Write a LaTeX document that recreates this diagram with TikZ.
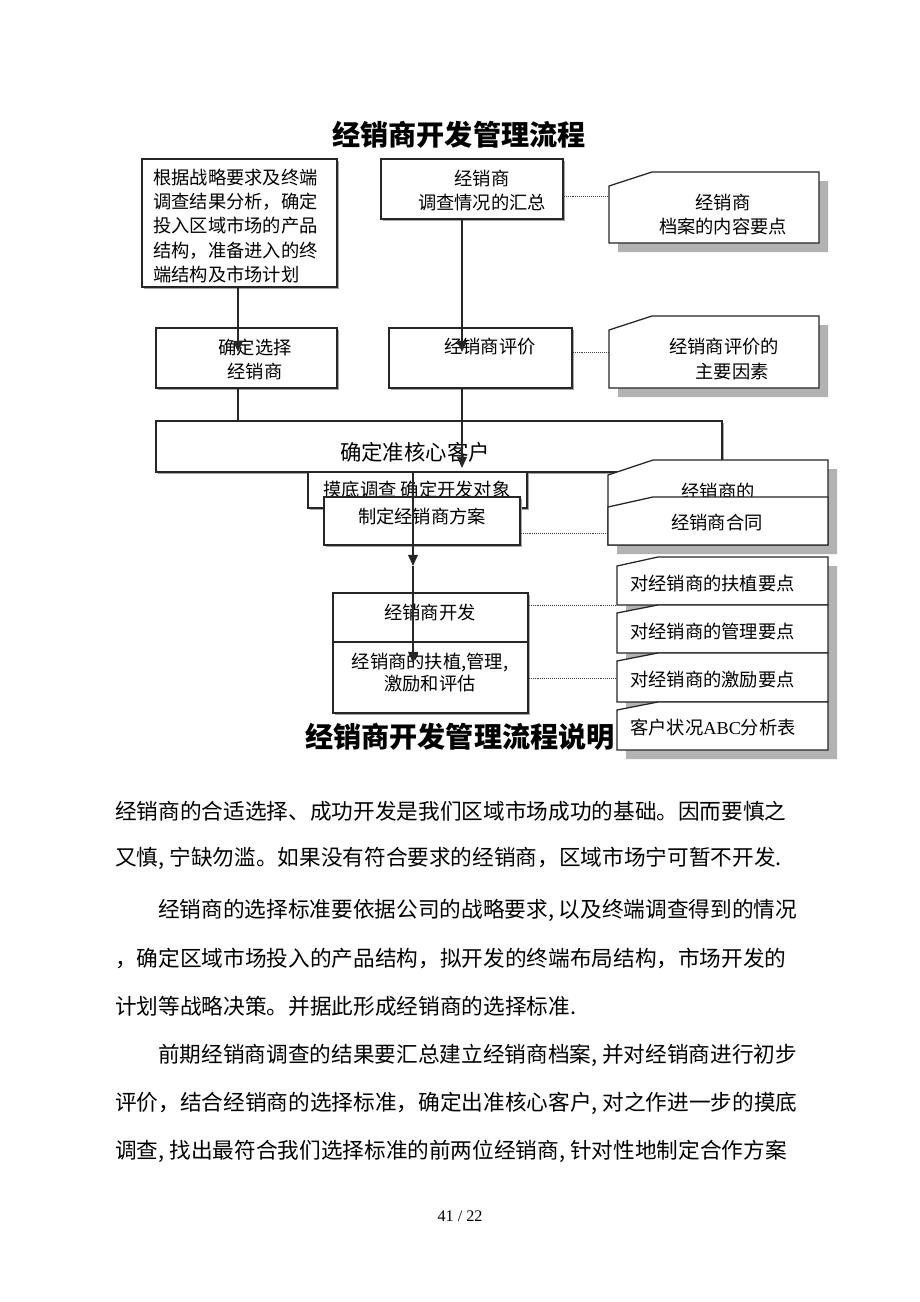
\documentclass[tikz,border=0pt]{standalone}
\usepackage{fontspec}
\setmainfont{Liberation Serif}
\newfontfamily\cjk{Noto Sans CJK SC}
\newfontfamily\lat{Liberation Serif}
\usetikzlibrary{positioning,arrows.meta,fit,shadows}
\tikzset{
  flowbox/.style={draw=black!85, line width=0.9pt, fill=white, inner sep=0pt,
    drop shadow={shadow xshift=1.3pt, shadow yshift=-1.3pt, fill=gray!70, opacity=1}},
  boxtext/.style={font=\cjk\fontsize{13}{17.5}\selectfont, inner sep=0pt, align=center},
  notebox/.style={draw=black!85, line width=0.9pt, fill=white},
  noteshadow/.style={fill=gray!60},
  flow/.style={line width=0.9pt, draw=black!85, -{Triangle[length=8pt,width=7pt]}},
  link/.style={line width=0.9pt, draw=black!85},
  dotlink/.style={line width=0.6pt, draw=black!75, dash pattern=on 0.6pt off 0.8pt},
  bodytext/.style={font=\cjk\fontsize{15.4}{18}\selectfont, anchor=west, inner sep=0pt},
  titletext/.style={font=\cjk\bfseries\fontsize{20}{24}\selectfont, inner sep=0pt}
}
% note outline: left, top, right, bottom, cut x, cut y
\newcommand{\noteoutline}[6]{(#1,#2+#6) -- (#1+#5,#2) -- (#3,#2) -- (#3,#4) -- (#1,#4) -- cycle}

\begin{document}
\begin{tikzpicture}[x=0.025cm, y=-0.025cm]
  \fill[white] (0,0) rectangle (920,1302);
  \useasboundingbox (0,0) rectangle (920,1302);

  \node[titletext] (title) at (459,135) {经销商开发管理流程};

  % dotted links to the notes
  \coordinate (n1) at (609,196);
  \coordinate (n2) at (609,352);
  \coordinate (n3) at (608,533);
  \coordinate (n4) at (617,605);
  \coordinate (n5) at (617,678);

  \node[flowbox, fit={(142,159) (337,287)}] (b1) {};
  \node[boxtext, align=left, font=\cjk\fontsize{13}{17.1}\selectfont] (b1t) at (235.5,226)
    {根据战略要求及终端\\调查结果分析，确定\\投入区域市场的产品\\结构，准备进入的终\\端结构及市场计划};
  \node[flowbox, fit={(381,159) (563,219)}] (b2) {};
  \node[boxtext] (b2t) at (482,190.5) {经销商\\调查情况的汇总};
  \node[flowbox, fit={(156,328) (337,388)}] (b3) {};
  \node[boxtext] (b3t) at (255,359.5) {确定选择\\经销商};
  \node[flowbox, fit={(389,328) (572,388)}] (b4) {};
  \node[boxtext] (b4t) at (490,347) {经销商评价};

  \draw[dotlink] (b2.east |- n1) -- (n1);
  \draw[dotlink] (b4.east |- n2) -- (n2);

  \node[flowbox, fit={(156,421) (722,472)}] (b5) {};
  \node[boxtext, font=\cjk\fontsize{15.2}{18}\selectfont] (b5t) at (415,452) {确定准核心客户};
  \node[flowbox, fit={(308,472) (527,508)}] (b6) {};
  \node[boxtext] (b6t) at (417,490) {摸底调查 确定开发对象};
  \node[flowbox, fit={(324,497) (520,545)}] (b7) {};
  \node[boxtext] (b7t) at (422,517) {制定经销商方案};

  \node[flowbox, fit={(333,593) (528,642)}] (b8a) {};
  \node[flowbox, fit={(333,642) (528,713)}] (b8b) {};
  \node[boxtext] (b8t) at (430,613) {经销商开发};
  \node[boxtext, font=\cjk\fontsize{13}{15.6}\selectfont] (b8u) at (430,672.5) {经销商的扶植,管理,\\激励和评估};

  \draw[dotlink] (b7.east |- n3) -- (n3);
  \draw[dotlink] (b8a.east |- n4) -- (n4);
  \draw[dotlink] (b8b.east |- n5) -- (n5);

  % notes
  \fill[noteshadow, shift={(9,9)}] \noteoutline{609}{172}{819}{243}{43}{14};
  \draw[notebox] \noteoutline{609}{172}{819}{243}{43}{14};
  \node[boxtext] (n1t) at (723,214.5) {经销商\\档案的内容要点};
  \fill[noteshadow, shift={(9,9)}] \noteoutline{609}{316}{819}{388}{43}{14};
  \draw[notebox] \noteoutline{609}{316}{819}{388}{43}{14};
  \node[boxtext] (n2t) at (724,359) {经销商评价的\\\hspace*{0.9em}主要因素};

  \fill[noteshadow, shift={(9,9)}] \noteoutline{608}{460}{828}{545}{45}{15};
  \draw[notebox] \noteoutline{608}{460}{828}{545}{45}{15};
  \node[boxtext] (n3t) at (718,492) {经销商的};
  \draw[notebox] \noteoutline{608}{497}{828}{545}{45}{10};
  \node[boxtext] (n4t) at (717,523) {经销商合同};

  \node[titletext] (title2) at (460,737) {经销商开发管理流程说明};

  \foreach \top/\bot/\cut in {557/605/9, 605/653/8, 653/702/8, 702/750/8}
    \fill[noteshadow, shift={(9,9)}] \noteoutline{617}{\top}{828}{\bot}{41}{\cut};
  \foreach \top/\bot/\cut in {557/605/9, 605/653/8, 653/702/8, 702/750/8}
    \draw[notebox] \noteoutline{617}{\top}{828}{\bot}{41}{\cut};
  \node[boxtext, anchor=west] (s1) at (630,584) {对经销商的扶植要点};
  \node[boxtext, anchor=west] (s2) at (630,632) {对经销商的管理要点};
  \node[boxtext, anchor=west] (s3) at (630,680) {对经销商的激励要点};
  \node[boxtext, anchor=west] (s4) at (630,728) {客户状况{\lat ABC}分析表};

  % flow arrows
  \coordinate (t1) at (238,352);
  \coordinate (t2) at (462,352);
  \coordinate (t3) at (462,468);
  \coordinate (t4) at (413,566);
  \coordinate (t5) at (413,663);
  \draw[flow] (b1.south -| t1) -- (t1);
  \draw[flow] (b2.south -| t2) -- (t2);
  \draw[link] (b3.south -| t1) -- (b5.north -| t1);
  \draw[flow] (b4.south -| t3) -- (t3);
  \draw[flow] (b5.south -| t4) -- (t4);
  \draw[flow] (t4) -- (t5);

  % text below
  \node[bodytext] (p1) at (115,811) {经销商的合适选择、成功开发是我们区域市场成功的基础。因而要慎之};
  \node[bodytext] (p2) at (115,858) {又慎, 宁缺勿滥。如果没有符合要求的经销商，区域市场宁可暂不开发.};
  \node[bodytext] (p3) at (158,910) {经销商的选择标准要依据公司的战略要求, 以及终端调查得到的情况};
  \node[bodytext] (p4) at (115,958) {，确定区域市场投入的产品结构，拟开发的终端布局结构，市场开发的};
  \node[bodytext] (p5) at (115,1006) {计划等战略决策。并据此形成经销商的选择标准.};
  \node[bodytext] (p6) at (158,1055) {前期经销商调查的结果要汇总建立经销商档案, 并对经销商进行初步};
  \node[bodytext] (p7) at (115,1103) {评价，结合经销商的选择标准，确定出准核心客户, 对之作进一步的摸底};
  \node[bodytext] (p8) at (115,1151) {调查, 找出最符合我们选择标准的前两位经销商, 针对性地制定合作方案};
  \node[font=\lat\fontsize{11.5}{13}\selectfont, inner sep=0pt] (page) at (460,1216) {41 / 22};
\end{tikzpicture}
\end{document}
